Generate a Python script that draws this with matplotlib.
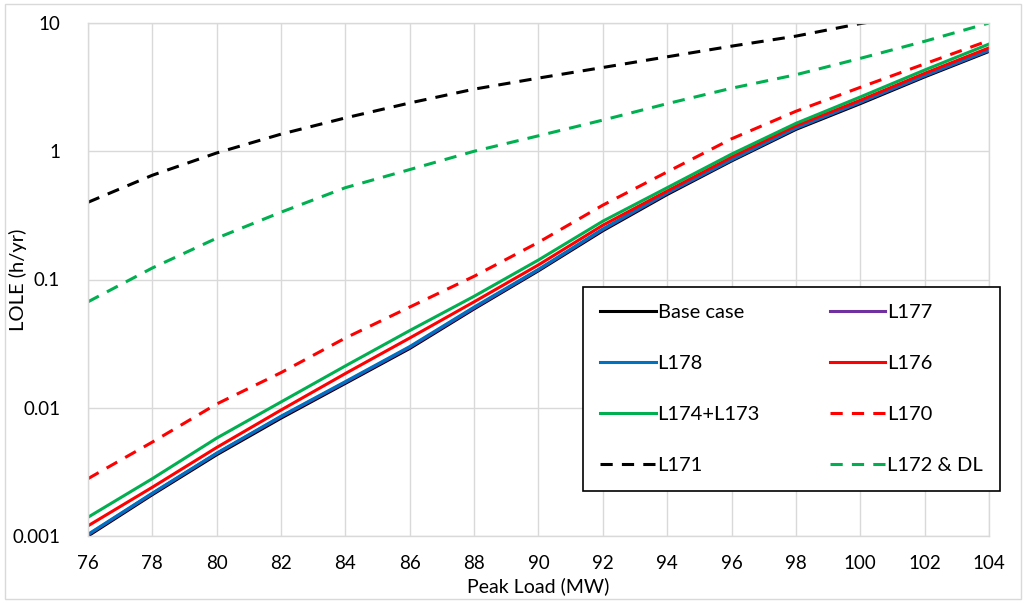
import matplotlib.pyplot as plt
from matplotlib.patches import Rectangle
from matplotlib.ticker import FixedLocator, FixedFormatter, NullLocator

plt.rcParams['font.family'] = ['Lato', 'DejaVu Sans']

peak_load = [76, 78, 80, 82, 84, 86, 88, 90, 92, 94, 96, 98, 100, 102, 104]

base_case = [0.001, 0.0021, 0.0043, 0.0083, 0.0155, 0.029, 0.059, 0.117, 0.24, 0.46, 0.84, 1.48, 2.35, 3.8, 6.0]
l177 = [0.00102, 0.00214, 0.0044, 0.0085, 0.0158, 0.0296, 0.060, 0.119, 0.245, 0.47, 0.855, 1.51, 2.4, 3.87, 6.1]
l178 = [0.00103, 0.00216, 0.00443, 0.0086, 0.016, 0.030, 0.061, 0.120, 0.248, 0.475, 0.86, 1.52, 2.42, 3.9, 6.15]
l176 = [0.0012, 0.0024, 0.0049, 0.0096, 0.0185, 0.035, 0.067, 0.13, 0.265, 0.49, 0.9, 1.58, 2.5, 4.05, 6.4]
l174_l173 = [0.0014, 0.0028, 0.0058, 0.0111, 0.0212, 0.040, 0.074, 0.142, 0.285, 0.52, 0.95, 1.65, 2.65, 4.3, 6.85]
l170 = [0.0028, 0.0054, 0.0107, 0.0188, 0.035, 0.061, 0.106, 0.195, 0.38, 0.69, 1.25, 2.05, 3.15, 4.8, 7.3]
l171 = [0.40, 0.65, 0.97, 1.36, 1.82, 2.38, 3.05, 3.72, 4.5, 5.45, 6.6, 7.9, 9.9, 12.0, 14.0]
l172_dl = [0.067, 0.123, 0.21, 0.335, 0.52, 0.72, 1.0, 1.32, 1.75, 2.35, 3.1, 3.95, 5.3, 7.2, 10.0]

y_ticks = [0.001, 0.01, 0.1, 1, 10]
y_tick_labels = ['0.001', '0.01', '0.1', '1', '10']

fig = plt.figure(figsize=(10.26, 6.03), dpi=100)
ax = fig.add_axes([88 / 1026, 1 - 536 / 603, (989 - 88) / 1026, (536 - 23) / 603])

lw = 2.2
dash = (4, 3)
h_base, = ax.plot(peak_load, base_case, color='black', lw=lw, label='Base case')
h177, = ax.plot(peak_load, l177, color='#7030A0', lw=lw, label='L177')
h178, = ax.plot(peak_load, l178, color='#0070C0', lw=lw, label='L178')
h176, = ax.plot(peak_load, l176, color='#FF0000', lw=lw, label='L176')
h174, = ax.plot(peak_load, l174_l173, color='#00B050', lw=lw, label='L174+L173')
h170, = ax.plot(peak_load, l170, color='#FF0000', lw=lw, ls=(0, dash), label='L170')
h171, = ax.plot(peak_load, l171, color='black', lw=lw, ls=(0, dash), label='L171')
h172, = ax.plot(peak_load, l172_dl, color='#00B050', lw=lw, ls=(0, dash), label='L172 & DL')

ax.set_yscale('log')
ax.set_ylim(0.001, 10)
ax.set_xlim(76, 104)
ax.set_xticks(peak_load)
ax.yaxis.set_major_locator(FixedLocator(y_ticks))
ax.yaxis.set_major_formatter(FixedFormatter(y_tick_labels))
ax.yaxis.set_minor_locator(NullLocator())
ax.tick_params(axis='both', length=0, labelsize=13.5, colors='#000000')
ax.tick_params(axis='y', pad=20)
ax.tick_params(axis='x', pad=14)
ax.grid(True, color='#D9D9D9', lw=1)
ax.set_axisbelow(True)
for s in ax.spines.values():
    s.set_color('#D9D9D9')
    s.set_linewidth(1)

ax.set_xlabel('Peak Load (MW)', fontsize=14)
ax.xaxis.set_label_coords(0.5, -(577 - 536) / 513)
ax.set_ylabel('LOLE (h/yr)', fontsize=14.5)
ax.yaxis.set_label_coords(-(88 - 27) / 901, 0.5)

# excel fills legend row by row, matplotlib column by column
handles = [h_base, h178, h174, h171, h177, h176, h170, h172]
leg = fig.legend(handles=handles, labels=[h.get_label() for h in handles], ncol=2,
                 loc='upper left', mode='expand',
                 bbox_to_anchor=(583 / 1026, 1 - 489 / 603, 417 / 1026, 202 / 603),
                 fontsize=14.5, frameon=True, fancybox=False, framealpha=1,
                 edgecolor='black', borderpad=0.85, labelspacing=1.68,
                 handlelength=2.75, handletextpad=0.1, columnspacing=2.0,
                 borderaxespad=0)
leg.get_frame().set_linewidth(1.2)

fig.patches.append(Rectangle((5 / 1026, 4 / 603), 1 - 10 / 1026, 1 - 8 / 603,
                             transform=fig.transFigure, fill=False,
                             edgecolor='#D9D9D9', lw=1))

fig.savefig('out.png', dpi=100)
